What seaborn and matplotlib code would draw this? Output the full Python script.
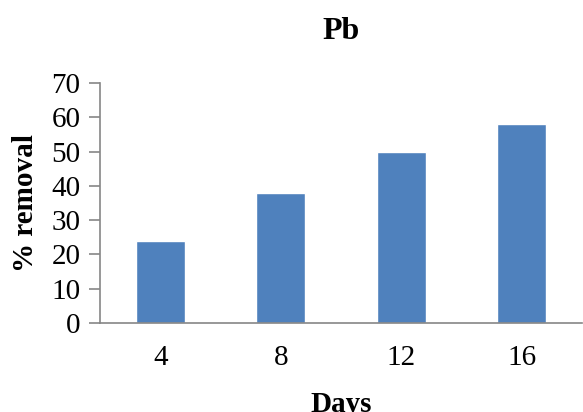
import pandas as pd
import matplotlib
matplotlib.use('Agg')
import matplotlib.pyplot as plt
import seaborn as sns

days = ['4', '8', '12', '16']
removal = [24, 38, 50, 58]

df = pd.DataFrame({'Days': days, 'removal': removal})

sns.set_style('white')
plt.rcParams['font.family'] = ['Liberation Serif', 'DejaVu Serif']
plt.rcParams['text.color'] = 'black'
plt.rcParams['axes.labelcolor'] = 'black'
plt.rcParams['xtick.color'] = 'black'
plt.rcParams['ytick.color'] = 'black'

fig = plt.figure(figsize=(5.83, 4.12), dpi=100)
ax = fig.add_axes([100 / 583, 1 - 323 / 412, 482 / 583, 240 / 412])

sns.barplot(x='Days', y='removal', data=df, color='#4F81BD', width=0.41,
            saturation=1, ax=ax)

ax.set_ylim(0, 70)
ax.set_yticks(range(0, 71, 10))
ax.set_xlim(-0.5, 3.5)
ax.tick_params(axis='y', which='both', left=True, length=8, width=1.2,
               color='#868686', labelcolor='black', labelsize=21, pad=6)
ax.tick_params(axis='x', bottom=False, labelcolor='black', labelsize=21, pad=12)

for s in ['top', 'right']:
    ax.spines[s].set_visible(False)
for s in ['left', 'bottom']:
    ax.spines[s].set_color('#868686')
    ax.spines[s].set_linewidth(1.2)

ax.set_xlabel('Days', fontsize=21, fontweight='bold', labelpad=15)
ax.set_ylabel('% removal', fontsize=21, fontweight='bold', labelpad=9)
ax.set_title('Pb', fontsize=23, fontweight='bold', pad=32)

fig.savefig('out.png', dpi=100)
